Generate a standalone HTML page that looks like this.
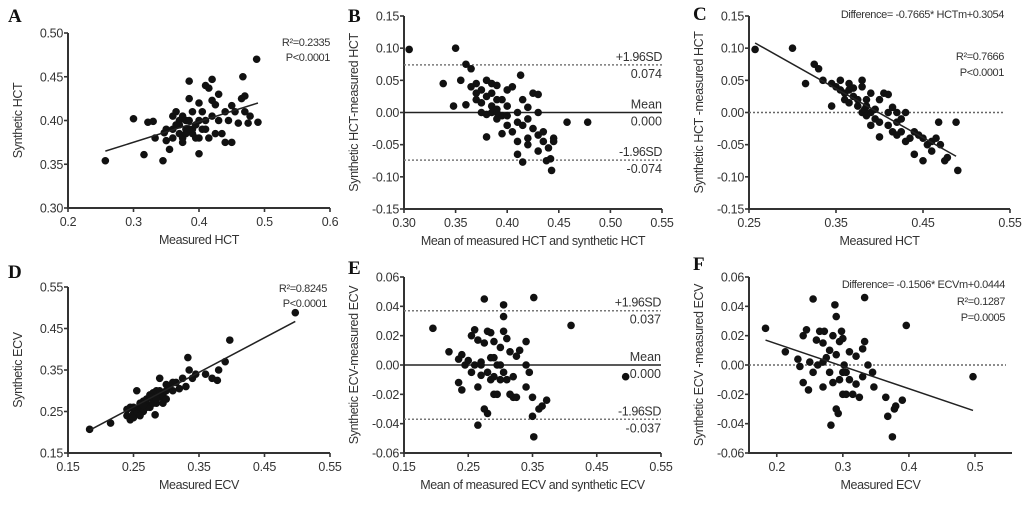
<!DOCTYPE html>
<html><head><meta charset="utf-8"><style>
html,body{margin:0;padding:0;background:#fff;}
svg{display:block;font-family:"Liberation Sans",Arial,sans-serif;}
</style></head><body>
<svg id="fig" width="1036" height="521" viewBox="0 0 1036 521"></svg>
<script>
// ---- Panel A data ----
const aX=[0.257,0.30,0.316,0.322,0.33,0.333,0.345,0.347,0.35,0.355,0.36,0.36,0.365,0.37,0.37,0.375,0.375,0.38,0.38,0.385,0.385,0.385,0.39,0.39,0.39,0.395,0.40,0.40,0.40,0.405,0.405,0.41,0.41,0.41,0.415,0.415,0.42,0.42,0.42,0.425,0.425,0.43,0.43,0.435,0.44,0.44,0.445,0.45,0.45,0.455,0.46,0.465,0.467,0.47,0.47,0.475,0.478,0.488,0.49,0.36,0.37,0.38,0.395,0.35,0.365,0.385,0.40,0.375];
const aY=[0.354,0.402,0.361,0.398,0.399,0.38,0.354,0.386,0.377,0.367,0.39,0.405,0.41,0.395,0.385,0.38,0.375,0.39,0.40,0.445,0.425,0.40,0.385,0.39,0.41,0.395,0.362,0.42,0.38,0.41,0.39,0.44,0.39,0.40,0.437,0.38,0.423,0.447,0.405,0.418,0.385,0.40,0.43,0.385,0.41,0.375,0.40,0.375,0.417,0.41,0.397,0.425,0.45,0.428,0.41,0.397,0.405,0.47,0.398,0.38,0.40,0.385,0.38,0.39,0.395,0.39,0.40,0.405];
const aFit=[[0.257,0.365],[0.49,0.42]];
// ---- Panel B data ----
const bX=[0.305,0.35,0.338,0.348,0.36,0.365,0.355,0.36,0.365,0.37,0.37,0.375,0.375,0.38,0.38,0.38,0.38,0.385,0.385,0.385,0.39,0.39,0.39,0.395,0.395,0.395,0.40,0.40,0.40,0.405,0.405,0.41,0.41,0.41,0.41,0.413,0.415,0.415,0.415,0.42,0.42,0.42,0.425,0.425,0.43,0.43,0.43,0.43,0.435,0.435,0.438,0.44,0.442,0.443,0.445,0.445,0.458,0.478,0.39,0.375,0.37,0.40,0.42,0.385,0.39];
const bY=[0.098,0.10,0.045,0.01,0.075,0.068,0.05,0.012,0.04,0.03,0.02,0.035,0.015,0.05,0.025,-0.003,-0.038,0.045,0.01,0.0,0.042,0.005,-0.01,0.02,-0.005,-0.033,0.035,0.01,-0.02,0.04,-0.03,0.0,-0.015,-0.045,-0.065,0.058,-0.077,-0.02,0.02,0.008,-0.01,-0.04,-0.025,0.03,0.028,-0.035,-0.06,0.0,-0.045,-0.03,-0.075,-0.055,-0.072,-0.09,-0.04,-0.045,-0.015,-0.015,0.02,0.0,0.045,-0.005,-0.05,0.03,0.0];
const bMean=0.000, bSD=0.074;
// ---- Panel C data ----
const cX=[0.257,0.30,0.315,0.325,0.33,0.335,0.345,0.345,0.35,0.355,0.355,0.36,0.36,0.365,0.365,0.37,0.37,0.375,0.38,0.38,0.38,0.383,0.385,0.385,0.39,0.39,0.395,0.40,0.40,0.40,0.405,0.41,0.41,0.41,0.415,0.415,0.42,0.42,0.425,0.425,0.43,0.43,0.44,0.44,0.445,0.45,0.45,0.455,0.46,0.46,0.465,0.468,0.47,0.475,0.478,0.488,0.49,0.375,0.385,0.395,0.42,0.435,0.365,0.39];
const cY=[0.098,0.10,0.045,0.075,0.068,0.05,0.045,0.01,0.04,0.035,0.05,0.02,0.03,0.045,0.015,0.025,0.038,0.02,0.0,0.04,0.05,0.005,-0.005,0.02,0.0,0.03,-0.01,-0.038,0.02,-0.015,0.03,0.0,-0.02,0.028,-0.03,0.008,-0.015,-0.035,-0.01,-0.03,0.0,-0.045,-0.03,-0.065,-0.035,-0.04,-0.075,-0.05,-0.045,-0.06,-0.04,-0.015,-0.05,-0.075,-0.07,-0.015,-0.09,0.01,0.01,0.005,0.0,-0.04,0.035,-0.02];
const cFit=[[0.257,0.108],[0.488,-0.068]];
// ---- Panel D data ----
const dX=[0.183,0.215,0.24,0.24,0.245,0.245,0.25,0.25,0.255,0.255,0.26,0.26,0.265,0.265,0.27,0.27,0.275,0.275,0.28,0.28,0.283,0.285,0.285,0.29,0.29,0.295,0.295,0.30,0.30,0.305,0.31,0.315,0.32,0.325,0.33,0.333,0.335,0.34,0.345,0.36,0.37,0.378,0.38,0.39,0.397,0.497,0.26,0.27,0.28,0.275,0.29,0.25,0.3,0.285,0.31,0.265];
const dY=[0.207,0.222,0.24,0.255,0.23,0.26,0.245,0.235,0.30,0.25,0.26,0.27,0.25,0.275,0.27,0.28,0.29,0.26,0.28,0.295,0.242,0.27,0.30,0.285,0.33,0.29,0.27,0.30,0.315,0.31,0.30,0.32,0.305,0.33,0.31,0.38,0.35,0.33,0.34,0.34,0.33,0.325,0.35,0.37,0.422,0.488,0.24,0.26,0.27,0.285,0.30,0.26,0.28,0.28,0.32,0.265];
const dFit=[[0.183,0.205],[0.497,0.467]];
// ---- Panel E data ----
const eX=[0.195,0.22,0.235,0.235,0.24,0.24,0.245,0.25,0.255,0.255,0.26,0.26,0.265,0.265,0.265,0.27,0.27,0.275,0.275,0.275,0.28,0.28,0.28,0.285,0.285,0.285,0.29,0.29,0.29,0.295,0.295,0.30,0.30,0.305,0.305,0.305,0.305,0.31,0.31,0.315,0.315,0.32,0.32,0.325,0.325,0.33,0.34,0.34,0.34,0.345,0.35,0.35,0.352,0.352,0.36,0.365,0.372,0.41,0.495,0.27,0.29,0.3];
const eY=[0.025,0.009,0.004,-0.012,-0.017,0.007,0.0,0.003,0.02,-0.005,0.024,0.0,-0.015,0.017,-0.041,0.002,-0.007,0.045,-0.03,0.015,-0.033,0.023,-0.005,0.022,-0.01,0.005,0.016,-0.02,-0.008,-0.02,0.0,-0.01,0.012,0.041,0.033,0.023,-0.005,-0.01,0.018,0.009,-0.02,-0.022,-0.008,-0.022,0.006,0.01,0.0,0.016,-0.015,-0.005,-0.035,-0.022,0.046,-0.049,-0.03,-0.028,-0.024,0.027,-0.008,0.0,0.005,0.0];
const eMean=0.000, eSD=0.037;
// ---- Panel F data ----
const fX=[0.183,0.213,0.232,0.235,0.24,0.24,0.245,0.248,0.25,0.255,0.255,0.26,0.262,0.265,0.27,0.27,0.272,0.275,0.28,0.282,0.285,0.285,0.288,0.29,0.29,0.29,0.293,0.295,0.295,0.298,0.30,0.30,0.302,0.305,0.305,0.31,0.31,0.315,0.32,0.32,0.325,0.33,0.33,0.333,0.333,0.338,0.345,0.347,0.365,0.368,0.375,0.378,0.38,0.39,0.396,0.497,0.27,0.28,0.3];
const fY=[0.025,0.009,0.004,-0.001,0.02,-0.012,0.024,-0.017,0.002,-0.005,0.045,0.017,0.0,0.023,-0.015,0.015,0.023,0.005,-0.005,-0.041,0.02,-0.012,0.041,-0.03,0.033,0.007,-0.033,0.016,-0.01,0.023,-0.02,0.018,0.0,-0.005,-0.02,0.009,-0.01,-0.02,-0.013,0.006,-0.022,0.011,-0.008,0.046,0.016,0.0,-0.005,-0.015,-0.022,-0.035,-0.049,-0.03,-0.028,-0.024,0.027,-0.008,0.002,0.01,-0.005];
const fFit=[[0.183,0.017],[0.497,-0.031]];

const NS="http://www.w3.org/2000/svg";
const svg=document.getElementById('fig');
function mk(tag,attrs,parent){const e=document.createElementNS(NS,tag);for(const k in attrs)e.setAttribute(k,attrs[k]);(parent||svg).appendChild(e);return e;}
function txt(s,x,y,anchor,size,parent,extra){const t=mk('text',Object.assign({x:x,y:y,'text-anchor':anchor||'start','font-size':size||11,fill:'#333'},extra||{}),parent);t.textContent=s;return t;}

function panel(cfg){
  const g=mk('g',{});
  
  
  const sx=v=>cfg.x0+(v-cfg.xmin)/(cfg.xmax-cfg.xmin)*(cfg.x1-cfg.x0);
  const sy=v=>cfg.y1-(v-cfg.ymin)/(cfg.ymax-cfg.ymin)*(cfg.y1-cfg.y0);
  const L=txt(cfg.id,cfg.lx,cfg.ly,'start',19,g,{'font-family':'"Liberation Serif",serif','font-weight':'bold',fill:'#111'});
  
  
  const ax=mk('path',{d:`M${cfg.x0},${cfg.y0}V${cfg.y1}H${cfg.x1}`,stroke:'#333','stroke-width':2,fill:'none'},g);
  
  
  cfg.yt.forEach(v=>{const y=sy(v);mk('line',{x1:cfg.x0-4,x2:cfg.x0,y1:y,y2:y,stroke:'#333','stroke-width':1.6},g);
    const t=txt(v.toFixed(cfg.yd),cfg.x0-5,y+4.5,'end',12.5,g,{'letter-spacing':'-0.3'});
    
    });
  cfg.xt.forEach((v,i)=>{const x=sx(v);mk('line',{x1:x,x2:x,y1:cfg.y1,y2:cfg.y1+4,stroke:'#333','stroke-width':1.6},g);
    const t=txt(v.toFixed(cfg.xd),x,cfg.y1+18,'middle',12.5,g,{'letter-spacing':'-0.3'});
    
    });
  const xt=txt(cfg.xtitle,(cfg.x0+cfg.x1)/2,cfg.y1+36,'middle',12.5,g,{'letter-spacing':'-0.4'});
  
  
  const ycx=cfg.x0-46,ycy=(cfg.y0+cfg.y1)/2;
  const yt=txt(cfg.ytitle,ycx,ycy,'middle',12.5,g,{transform:`rotate(-90 ${ycx} ${ycy})`,'letter-spacing':'-0.4'});
  
  
  if(cfg.zeroDotted){const l=mk('line',{x1:cfg.x0,x2:cfg.x1-6,y1:sy(0),y2:sy(0),stroke:'#666','stroke-width':1.4,'stroke-dasharray':'2,2'},g);
    
    }
  if(cfg.ba){const [m,sd]=cfg.ba;
    const ml=mk('line',{x1:cfg.x0,x2:cfg.x1,y1:sy(m),y2:sy(m),stroke:'#222','stroke-width':1.6},g);
    
    
    [sd,-sd].forEach(v=>{const l=mk('line',{x1:cfg.x0,x2:cfg.x1,y1:sy(m+v),y2:sy(m+v),stroke:'#777','stroke-width':1.5,'stroke-dasharray':'2,2'},g);
      
      });
    const r=cfg.x1;
    txt('+1.96SD',r,sy(m+sd)-4,'end',12.5,g,{'letter-spacing':'-0.4'});
    txt((m+sd).toFixed(3),r,sy(m+sd)+13,'end',12.5,g);
    txt('Mean',r,sy(m)-4,'end',12.5,g);
    txt(m.toFixed(3),r,sy(m)+13,'end',12.5,g);
    txt('-1.96SD',r,sy(m-sd)-4,'end',12.5,g,{'letter-spacing':'-0.4'});
    txt((m-sd).toFixed(3),r,sy(m-sd)+13,'end',12.5,g);
  }
  cfg.xs.forEach((v,i)=>{const c=mk('circle',{cx:sx(v),cy:sy(cfg.ys[i]),r:3.8,fill:'#111'},g);
    
    });
  if(cfg.fit){const f=cfg.fit;const l=mk('line',{x1:sx(f[0][0]),y1:sy(f[0][1]),x2:sx(f[1][0]),y2:sy(f[1][1]),stroke:'#222','stroke-width':1.5},g);
    
    }
  (cfg.notes||[]).forEach(n=>{const t=txt(n[0],n[1],n[2],'end',11,g,{'letter-spacing':'-0.4'});
    
    });
}
panel({id:'A',lx:8,ly:22,x0:68,x1:330,y0:33,y1:208,xmin:0.2,xmax:0.6,ymin:0.30,ymax:0.50,
  xt:[0.2,0.3,0.4,0.5,0.6],xd:1,yt:[0.30,0.35,0.40,0.45,0.50],yd:2,xtitle:'Measured HCT',ytitle:'Synthetic HCT',
  xs:aX,ys:aY,fit:aFit,notes:[['R²=0.2335',330,46],['P<0.0001',330,61]]});
panel({id:'B',lx:348,ly:22,x0:404,x1:662,y0:16,y1:209,xmin:0.30,xmax:0.55,ymin:-0.15,ymax:0.15,
  xt:[0.30,0.35,0.40,0.45,0.50,0.55],xd:2,yt:[-0.15,-0.10,-0.05,0.00,0.05,0.10,0.15],yd:2,
  xtitle:'Mean of measured HCT and synthetic HCT',ytitle:'Synthetic HCT-measured HCT',xs:bX,ys:bY,ba:[bMean,bSD]});
panel({id:'C',lx:693,ly:20,x0:749,x1:1010,y0:16,y1:209,xmin:0.25,xmax:0.55,ymin:-0.15,ymax:0.15,
  xt:[0.25,0.35,0.45,0.55],xd:2,yt:[-0.15,-0.10,-0.05,0.00,0.05,0.10,0.15],yd:2,
  xtitle:'Measured HCT',ytitle:'Synthetic HCT -measured HCT',xs:cX,ys:cY,fit:cFit,zeroDotted:true,
  notes:[['Difference= -0.7665* HCTm+0.3054',1004,18],['R²=0.7666',1004,60],['P<0.0001',1004,76]]});
panel({id:'D',lx:8,ly:278,x0:68,x1:330,y0:287,y1:453,xmin:0.15,xmax:0.55,ymin:0.15,ymax:0.55,
  xt:[0.15,0.25,0.35,0.45,0.55],xd:2,yt:[0.15,0.25,0.35,0.45,0.55],yd:2,xtitle:'Measured ECV',ytitle:'Synthetic ECV',
  xs:dX,ys:dY,fit:dFit,notes:[['R²=0.8245',327,292],['P<0.0001',327,307]]});
panel({id:'E',lx:348,ly:274,x0:404,x1:661,y0:277,y1:453,xmin:0.15,xmax:0.55,ymin:-0.06,ymax:0.06,
  xt:[0.15,0.25,0.35,0.45,0.55],xd:2,yt:[-0.06,-0.04,-0.02,0.00,0.02,0.04,0.06],yd:2,
  xtitle:'Mean of measured ECV and synthetic ECV',ytitle:'Synthetic ECV-measured ECV',xs:eX,ys:eY,ba:[eMean,eSD]});
panel({id:'F',lx:693,ly:270,x0:749,x1:1012,y0:277,y1:453,xmin:0.158,xmax:0.556,ymin:-0.06,ymax:0.06,
  xt:[0.2,0.3,0.4,0.5],xd:1,yt:[-0.06,-0.04,-0.02,0.00,0.02,0.04,0.06],yd:2,
  xtitle:'Measured ECV',ytitle:'Synthetic ECV -measured ECV',xs:fX,ys:fY,fit:fFit,zeroDotted:true,
  notes:[['Difference= -0.1506* ECVm+0.0444',1005,288],['R²=0.1287',1005,305],['P=0.0005',1005,321]]});
</script>
</body></html>
